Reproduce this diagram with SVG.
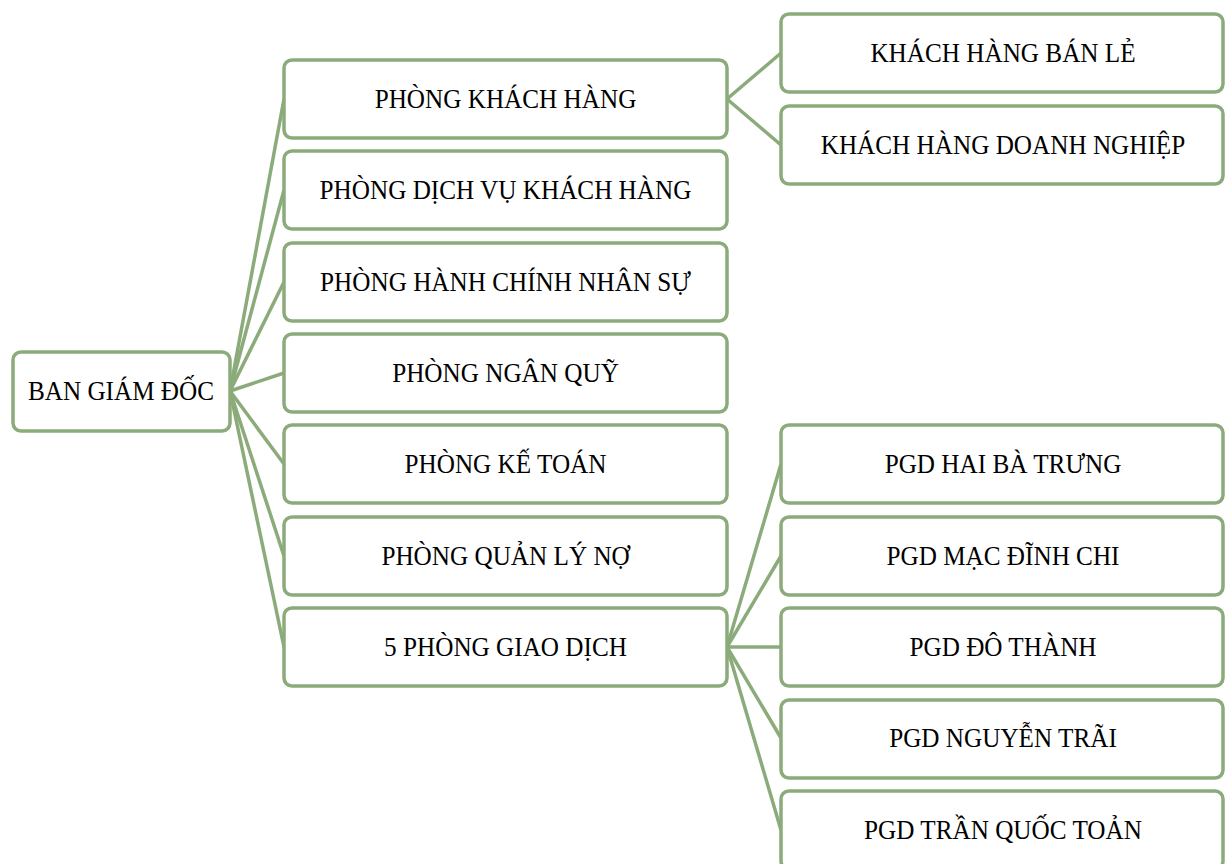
<svg xmlns="http://www.w3.org/2000/svg" width="1227" height="864" viewBox="0 0 1227 864">
<style>
.box{fill:#fff;stroke:#8BAB7B;stroke-width:3.5}
.ln{stroke:#8BAB7B;stroke-width:3.5;fill:none}
.t{font-family:"Liberation Serif","Times New Roman",serif;font-size:28px;fill:#000;text-anchor:middle;transform-box:fill-box;transform-origin:center;transform:scaleX(0.9)}
</style>
<rect width="1227" height="864" fill="#fff"/>
<g id="connectors">
<line class="ln" x1="230" y1="391" x2="284" y2="99"/>
<line class="ln" x1="230" y1="391" x2="284" y2="190"/>
<line class="ln" x1="230" y1="391" x2="284" y2="282"/>
<line class="ln" x1="230" y1="391" x2="284" y2="373"/>
<line class="ln" x1="230" y1="391" x2="284" y2="464"/>
<line class="ln" x1="230" y1="391" x2="284" y2="556"/>
<line class="ln" x1="230" y1="391" x2="284" y2="647"/>
<line class="ln" x1="727" y1="99" x2="781" y2="53"/>
<line class="ln" x1="727" y1="99" x2="781" y2="145"/>
<line class="ln" x1="727" y1="647" x2="781" y2="464"/>
<line class="ln" x1="727" y1="647" x2="781" y2="556"/>
<line class="ln" x1="727" y1="647" x2="781" y2="647"/>
<line class="ln" x1="727" y1="647" x2="781" y2="738"/>
<line class="ln" x1="727" y1="647" x2="781" y2="830"/>
</g>
<g id="root"><rect class="box" x="13" y="352" width="217" height="79" rx="8"/><text class="t" x="121" y="400">BAN GIÁM ĐỐC</text></g>
<g id="p1"><rect class="box" x="284" y="60" width="443" height="78" rx="8"/><text class="t" x="505.5" y="108">PHÒNG KHÁCH HÀNG</text></g>
<g id="p2"><rect class="box" x="284" y="151" width="443" height="78" rx="8"/><text class="t" x="505.5" y="199">PHÒNG DỊCH VỤ KHÁCH HÀNG</text></g>
<g id="p3"><rect class="box" x="284" y="243" width="443" height="78" rx="8"/><text class="t" x="505.5" y="291">PHÒNG HÀNH CHÍNH NHÂN SỰ</text></g>
<g id="p4"><rect class="box" x="284" y="334" width="443" height="78" rx="8"/><text class="t" x="505.5" y="382">PHÒNG NGÂN QUỸ</text></g>
<g id="p5"><rect class="box" x="284" y="425" width="443" height="78" rx="8"/><text class="t" x="505.5" y="473">PHÒNG KẾ TOÁN</text></g>
<g id="p6"><rect class="box" x="284" y="517" width="443" height="78" rx="8"/><text class="t" x="505.5" y="565">PHÒNG QUẢN LÝ NỢ</text></g>
<g id="p7"><rect class="box" x="284" y="608" width="443" height="78" rx="8"/><text class="t" x="505.5" y="656">5 PHÒNG GIAO DỊCH</text></g>
<g id="k1"><rect class="box" x="781" y="14" width="442" height="78" rx="8"/><text class="t" x="1003" y="62">KHÁCH HÀNG BÁN LẺ</text></g>
<g id="k2"><rect class="box" x="781" y="106" width="442" height="78" rx="8"/><text class="t" x="1003" y="154">KHÁCH HÀNG DOANH NGHIỆP</text></g>
<g id="g1"><rect class="box" x="781" y="425" width="442" height="78" rx="8"/><text class="t" x="1003" y="473">PGD HAI BÀ TRƯNG</text></g>
<g id="g2"><rect class="box" x="781" y="517" width="442" height="78" rx="8"/><text class="t" x="1003" y="565">PGD MẠC ĐĨNH CHI</text></g>
<g id="g3"><rect class="box" x="781" y="608" width="442" height="78" rx="8"/><text class="t" x="1003" y="656">PGD ĐÔ THÀNH</text></g>
<g id="g4"><rect class="box" x="781" y="700" width="442" height="78" rx="8"/><text class="t" x="1003" y="747">PGD NGUYỄN TRÃI</text></g>
<g id="g5"><rect class="box" x="781" y="791" width="442" height="78" rx="8"/><text class="t" x="1003" y="839">PGD TRẦN QUỐC TOẢN</text></g>
</svg>
